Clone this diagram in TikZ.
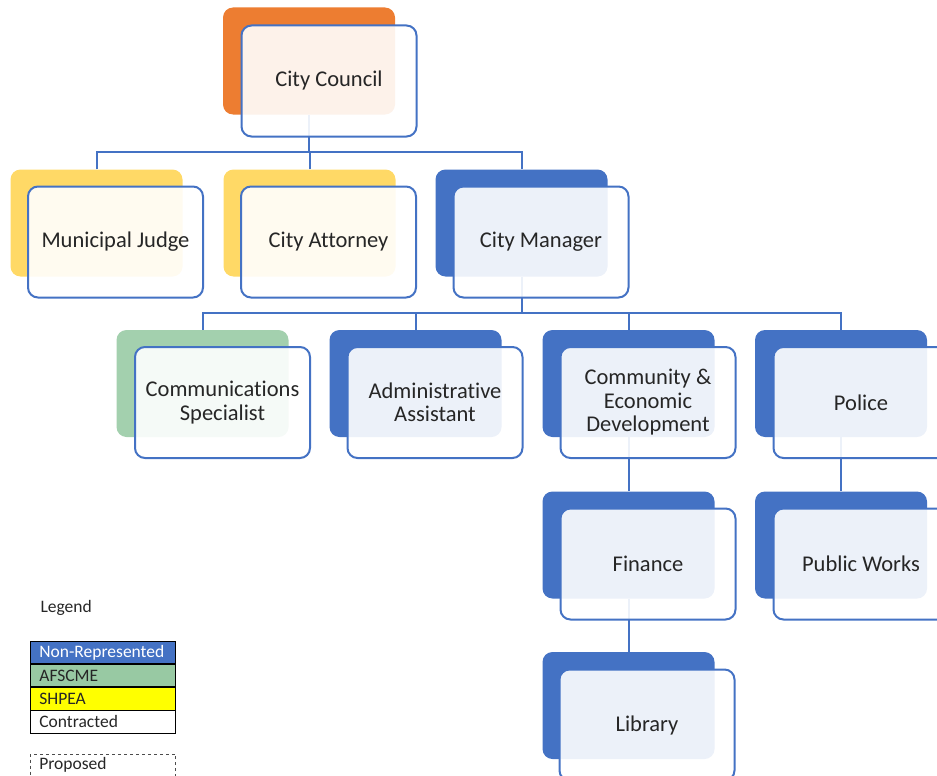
\documentclass[tikz,border=0pt]{standalone}
\usepackage{fontspec}
\setmainfont{Carlito}[Ligatures={NoCommon,NoRare}]
\definecolor{cblue}{HTML}{4472C4}
\definecolor{corange}{HTML}{ED7D31}
\definecolor{cyellow}{HTML}{FFD966}
\definecolor{cgreen}{HTML}{A3D0AE}
\definecolor{lgreen}{HTML}{98C9A3}
\definecolor{lyellow}{HTML}{FFFF00}
\definecolor{textc}{HTML}{262626}
\tikzset{
  backbox/.style={rounded corners=10pt, minimum width=172pt, minimum height=107pt, inner sep=0pt, draw=none},
  frontbox/.style={rounded corners=10pt, minimum width=175pt, minimum height=111pt, inner sep=0pt,
    draw=cblue, line width=2pt, fill=white, fill opacity=0.9, text opacity=1, align=center,
    font=\fontsize{22.5}{23.5}\selectfont, text=textc},
  conn/.style={cblue, line width=2pt},
  legrow/.style={draw=black, line width=0.8pt, minimum width=145pt, minimum height=22.3pt, inner ysep=0pt,
    inner xsep=9pt, text width=127pt, align=left, font=\fontsize{17.5}{18}\selectfont, text=textc, anchor=north west}
}
\begin{document}
\begin{tikzpicture}[x=1pt,y=-1pt]
\useasboundingbox (0,0) rectangle (937,776);
\clip (0,0) rectangle (937,776);
% back boxes
\node[backbox, fill=corange] (ccb) at (309,61) {};
\node[backbox, fill=cyellow] (mjb) at (96.5,223) {};
\node[backbox, fill=cyellow] (cab) at (309.5,223) {};
\node[backbox, fill=cblue] (cmb) at (521.5,223) {};
\node[backbox, fill=cgreen] (csb) at (202.5,383.5) {};
\node[backbox, fill=cblue] (aab) at (415.5,383.5) {};
\node[backbox, fill=cblue] (ceb) at (628.5,383.5) {};
\node[backbox, fill=cblue] (pob) at (841,383.5) {};
\node[backbox, fill=cblue] (fib) at (628.5,545) {};
\node[backbox, fill=cblue] (pwb) at (841,545) {};
\node[backbox, fill=cblue] (lib) at (628.5,705.5) {};
% connectors
\coordinate (j1) at (309,152);
\coordinate (j2) at (521.5,313);
\draw[conn] (ccb.south) -- (j1);
\draw[conn] (mjb.north) -- (mjb.north |- j1) -- (cmb.north |- j1) -- (cmb.north);
\draw[conn] (cab.north) -- (cab.north |- j1);
\draw[conn] (cmb.south) -- (j2);
\draw[conn] (csb.north) -- (csb.north |- j2) -- (pob.north |- j2) -- (pob.north);
\draw[conn] (aab.north) -- (aab.north |- j2);
\draw[conn] (ceb.north) -- (ceb.north |- j2);
\draw[conn] (ceb.south) -- (fib.north);
\draw[conn] (fib.south) -- (lib.north);
\draw[conn] (pob.south) -- (pwb.north);
% front boxes
\node[frontbox] (cc) at (329,81) {City Council};
\node[frontbox] (mj) at (115.5,242) {Municipal Judge};
\node[frontbox] (ca) at (328.5,242) {City Attorney};
\node[frontbox] (cm) at (541,242) {City Manager};
\node[frontbox] (cs) at (222.5,402.5) {Communications\\Specialist};
\node[frontbox] (aa) at (435,402.5) {Administrative\\Assistant};
\node[frontbox] (ce) at (648,402.5) {Community \&\\Economic\\Development};
\node[frontbox] (po) at (861,402.5) {Police};
\node[frontbox] (fi) at (648,564) {Finance};
\node[frontbox] (pw) at (861,564) {Public Works};
\node[frontbox] (li) at (647,725) {Library};
% legend
\node[font=\fontsize{17.5}{18}\selectfont, text=textc, anchor=west] (lg) at (37,608) {Legend};
\node[legrow, fill=cblue, text=white] (l1) at (30,641) {Non-Represented};
\node[legrow, fill=lgreen] (l2) at (l1.south west) {AFSCME};
\node[legrow, fill=lyellow] (l3) at (l2.south west) {SHPEA};
\node[legrow, fill=white] (l4) at (l3.south west) {Contracted};
\node[legrow, draw=black!70, dashed, line width=0.7pt] (l5) at (30,753.5) {Proposed};
\end{tikzpicture}
\end{document}
